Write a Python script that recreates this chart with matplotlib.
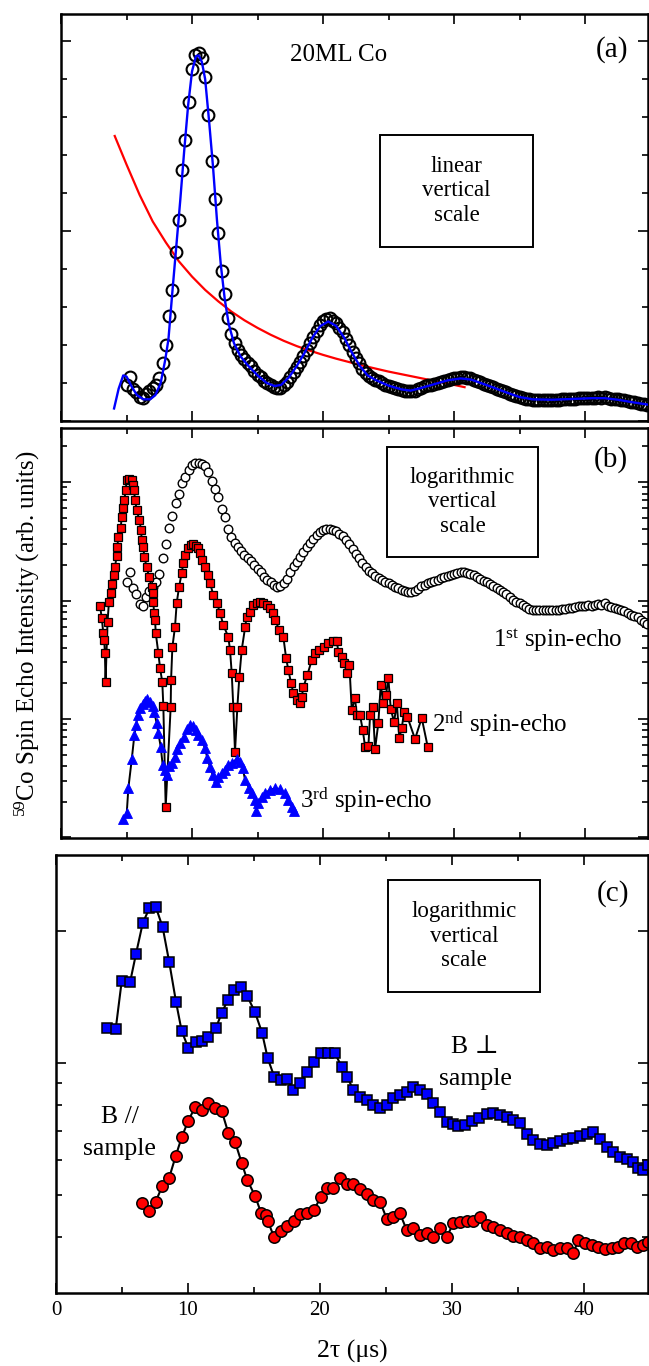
import numpy as np
import matplotlib
matplotlib.use('Agg')
import matplotlib.pyplot as plt
from matplotlib.patches import Rectangle
from matplotlib.ticker import MultipleLocator, LogLocator, FixedLocator, NullFormatter

# Times-like font, DejaVu as fallback for the ⊥ sign
plt.rcParams['font.family'] = ['Liberation Serif', 'DejaVu Serif']
plt.rcParams['mathtext.fontset'] = 'custom'
plt.rcParams['mathtext.rm'] = 'Liberation Serif'
plt.rcParams['mathtext.it'] = 'Liberation Serif:italic'

# ---------------- data ----------------
# (a) 1st spin echo, sampled every 0.25 us from 5 us
t1_start, t1_step = 5.0, 0.25
echo1 = [0.95, 1.15, 0.85, 0.75, 0.62, 0.60, 0.72, 0.80,
         0.86, 0.95, 1.12, 1.53, 2.00, 2.75, 3.45, 4.45,
         5.30, 6.60, 7.40, 8.40, 9.25, 9.62, 9.68, 9.55,
         9.05, 8.05, 6.85, 5.85, 4.95, 3.95, 3.35, 2.70,
         2.28, 2.05, 1.87, 1.74, 1.63, 1.53, 1.44, 1.32,
         1.22, 1.15, 1.06, 0.99, 0.95, 0.90, 0.86, 0.88,
         0.94, 1.02, 1.16, 1.30, 1.42, 1.56, 1.72, 1.87,
         2.04, 2.22, 2.38, 2.53, 2.63, 2.69, 2.70, 2.64,
         2.57, 2.45, 2.33, 2.17, 2.00, 1.82, 1.65, 1.52,
         1.38, 1.27, 1.19, 1.13, 1.08, 1.04, 1.00, 0.96,
         0.93, 0.90, 0.87, 0.85, 0.82, 0.80, 0.78, 0.78,
         0.80, 0.84, 0.88, 0.91, 0.94, 0.96, 0.98, 1.00,
         1.03, 1.06, 1.08, 1.10, 1.12, 1.14, 1.15, 1.15,
         1.14, 1.12, 1.09, 1.06, 1.02, 0.98, 0.95, 0.92,
         0.89, 0.85, 0.82, 0.78, 0.75, 0.72, 0.68, 0.65,
         0.63, 0.61, 0.59, 0.57, 0.56, 0.55, 0.55, 0.55,
         0.56, 0.55, 0.55, 0.56, 0.56, 0.57, 0.57, 0.58,
         0.58, 0.59, 0.60, 0.60, 0.60, 0.61, 0.60, 0.61,
         0.62, 0.61, 0.63, 0.60, 0.59, 0.58, 0.57, 0.56,
         0.54, 0.52, 0.50, 0.49, 0.48, 0.46, 0.44, 0.42]
t1 = t1_start + t1_step * np.arange(len(echo1))

# blue fit curve
fit_t = [4.05, 4.4, 4.75, 5.0, 5.4, 5.8, 6.3, 6.8, 7.2, 7.6,
         7.95, 8.2, 8.5, 8.8, 9.1, 9.4, 9.7, 10.0, 10.3, 10.5,
         10.75, 11.0, 11.3, 11.6, 11.9, 12.2, 12.5, 12.8, 13.2, 13.7,
         14.3, 15.0, 15.7, 16.3, 16.8, 17.4, 18.0, 18.6, 19.2, 19.8,
         20.4, 21.0, 21.6, 22.2, 22.8, 23.4, 24.0, 25.0, 26.0, 26.7,
         27.5, 28.5, 29.5, 30.5, 31.3, 32.2, 33.0, 34.0, 35.0, 36.0,
         37.5, 39.0, 40.5, 41.5, 42.5, 43.5, 45.0]
fit_v = [0.33, 0.85, 1.2, 1.17, 0.9, 0.68, 0.57, 0.57, 0.68, 0.99,
         1.6, 2.15, 3.4, 4.6, 5.8, 7.1, 8.3, 9.2, 9.6, 9.62,
         9.45, 9.0, 7.9, 6.7, 5.3, 4.1, 3.2, 2.55, 2.05, 1.7,
         1.45, 1.2, 1.0, 0.92, 0.95, 1.15, 1.45, 1.8, 2.2, 2.5,
         2.62, 2.5, 2.2, 1.8, 1.45, 1.2, 1.08, 0.93, 0.83, 0.8,
         0.87, 0.97, 1.07, 1.12, 1.09, 0.98, 0.88, 0.75, 0.63, 0.57,
         0.56, 0.58, 0.6, 0.6, 0.56, 0.5, 0.42]

# red decay curve
decay_t = [4.1, 5, 6, 7, 8, 9, 10, 11, 12, 13, 14, 15, 16, 17,
           18, 19, 20, 21, 22, 23, 24, 25, 26, 27, 28, 29, 30, 30.8]
decay_v = [7.5, 6.75, 5.95, 5.25, 4.7, 4.2, 3.8, 3.45, 3.15, 2.88, 2.65, 2.45, 2.27, 2.11,
           1.97, 1.85, 1.74, 1.64, 1.55, 1.46, 1.38, 1.30, 1.23, 1.16, 1.09, 1.02, 0.95, 0.89]

# (b) 1st echo shifted up by this factor (arb. units)
echo1_shift_b = 1.5

# (b) 2nd spin echo
t2 = [2.98, 3.11, 3.23, 3.30, 3.35, 3.40, 3.55, 3.66, 3.82, 3.92,
      4.07, 4.12, 4.25, 4.30, 4.37, 4.56, 4.63, 4.76, 4.83, 4.94,
      5.01, 5.21, 5.40, 5.47, 5.57, 5.65, 5.78, 5.98, 6.11, 6.16,
      6.28, 6.36, 6.54, 6.72, 6.92, 7.00, 7.05, 7.10, 7.18, 7.23,
      7.43, 7.56, 7.73, 7.81, 7.99, 8.37, 8.40, 8.50, 8.70, 8.83,
      9.01, 9.21, 9.34, 9.47, 9.67, 9.90, 10.10, 10.30, 10.48, 10.61,
      10.79, 10.99, 11.25, 11.37, 11.63, 11.89, 12.14, 12.39, 12.77, 12.90,
      13.03, 13.15, 13.28, 13.46, 13.61, 13.79, 14.05, 14.17, 14.43, 14.69,
      14.94, 15.19, 15.44, 15.70, 15.95, 16.16, 16.34, 16.66, 16.97, 17.18,
      17.35, 17.56, 17.73, 17.99, 18.24, 18.37, 18.50, 18.80, 19.14, 19.39,
      19.72, 20.08, 20.41, 20.78, 21.05, 21.17, 21.43, 21.63, 21.81, 22.01,
      22.19, 22.44, 22.57, 22.82, 23.03, 23.21, 23.46, 23.59, 23.79, 23.97,
      24.22, 24.40, 24.60, 24.81, 24.98, 25.17, 25.42, 25.63, 25.82, 26.01,
      26.18, 26.44, 27.02, 27.53, 27.99]
echo2 = [0.90, 0.71, 0.53, 0.46, 0.36, 0.205, 0.66, 0.97, 1.16, 1.38,
         1.64, 1.92, 2.38, 2.83, 3.43, 4.09, 5.07, 6.04, 7.05, 8.55,
         10.4, 10.6, 10.4, 9.44, 8.55, 7.05, 5.80, 4.78, 3.94, 3.24,
         2.83, 2.33, 1.92, 1.58, 1.30, 1.16, 0.97, 0.785, 0.684, 0.532,
         0.360, 0.269, 0.205, 0.129, 0.0181, 0.126, 0.213, 0.405, 0.597, 0.953,
         1.30, 1.71, 2.07, 2.42, 2.77, 2.94, 3.00, 2.88, 2.77, 2.52,
         2.20, 1.92, 1.64, 1.41, 1.11, 0.953, 0.785, 0.621, 0.492, 0.382,
         0.244, 0.126, 0.0527, 0.126, 0.226, 0.382, 0.597, 0.726, 0.80, 0.916,
         0.953, 0.97, 0.953, 0.916, 0.865, 0.785, 0.684, 0.564, 0.492, 0.327,
         0.259, 0.201, 0.166, 0.145, 0.136, 0.153, 0.186, 0.235, 0.315, 0.360,
         0.382, 0.405, 0.438, 0.455, 0.455, 0.367, 0.333, 0.297, 0.244, 0.286,
         0.119, 0.150, 0.108, 0.108, 0.0807, 0.0581, 0.0592, 0.108, 0.126, 0.0558,
         0.0925, 0.194, 0.136, 0.160, 0.222, 0.121, 0.0944, 0.136, 0.0692, 0.0839,
         0.115, 0.104, 0.0678, 0.102, 0.0581]

# (b) 3rd spin echo
t3 = [4.76, 5.02, 5.14, 5.40, 5.60, 5.73, 5.85, 6.03, 6.24, 6.41,
      6.59, 6.79, 7.00, 7.10, 7.31, 7.43, 7.61, 7.76, 7.94, 8.11,
      8.27, 8.45, 8.70, 8.88, 9.08, 9.39, 9.60, 9.85, 10.10, 10.31,
      10.48, 10.74, 10.99, 11.17, 11.37, 11.58, 11.83, 12.01, 12.27, 12.52,
      12.77, 13.03, 13.41, 13.66, 13.87, 14.05, 14.37, 14.60, 14.81, 14.90,
      15.06, 15.32, 15.57, 15.95, 16.34, 16.72, 17.10, 17.35, 17.61, 17.79]
echo3 = [0.01425, 0.0162, 0.026, 0.0457, 0.0733, 0.0889, 0.108, 0.123, 0.134, 0.143,
         0.147, 0.140, 0.129, 0.115, 0.092, 0.0757, 0.0583, 0.0409, 0.0371, 0.0337,
         0.0403, 0.0423, 0.0481, 0.0555, 0.0624, 0.071, 0.0818, 0.0889, 0.0873, 0.0807,
         0.0733, 0.0665, 0.0566, 0.0466, 0.0395, 0.0337, 0.0296, 0.0326, 0.0348, 0.0371,
         0.0409, 0.0428, 0.0457, 0.0437, 0.0384, 0.0305, 0.026, 0.0239, 0.0207, 0.0167,
         0.0195, 0.0221, 0.0236, 0.0252, 0.026, 0.0255, 0.0236, 0.0207, 0.0182, 0.0168]

# (c) B perpendicular to sample
t_perp = [3.89, 4.52, 4.98, 5.61, 6.06, 6.57, 7.07, 7.55, 8.08, 8.58,
          9.09, 9.52, 10.02, 10.58, 11.04, 11.54, 12.10, 12.55, 13.01, 13.51,
          14.02, 14.49, 15.08, 15.61, 16.04, 16.54, 17.02, 17.52, 17.98, 18.48,
          18.99, 19.55, 20.05, 20.63, 21.14, 21.64, 22.07, 22.52, 23.03, 23.54,
          24.04, 24.55, 25.05, 25.55, 26.06, 26.57, 27.07, 27.58, 28.08, 28.58,
          29.09, 29.60, 30.05, 30.48, 30.98, 31.49, 32.07, 32.63, 33.08, 33.64,
          34.14, 34.64, 35.15, 35.66, 36.16, 36.67, 37.17, 37.67, 38.18, 38.69,
          39.19, 39.70, 40.20, 40.70, 41.21, 41.72, 42.22, 42.73, 43.23, 43.74,
          44.11, 44.49, 44.87]
b_perp = [1.205, 1.194, 1.541, 1.530, 1.776, 2.088, 2.259, 2.279, 2.044, 1.700,
          1.381, 1.184, 1.084, 1.115, 1.123, 1.145, 1.201, 1.299, 1.394, 1.469,
          1.495, 1.423, 1.306, 1.173, 1.025, 0.930, 0.914, 0.918, 0.868, 0.899,
          0.952, 1.004, 1.052, 1.052, 1.052, 0.981, 0.930, 0.868, 0.837, 0.823,
          0.801, 0.788, 0.801, 0.830, 0.845, 0.860, 0.883, 0.868, 0.849, 0.811,
          0.774, 0.734, 0.725, 0.718, 0.721, 0.738, 0.747, 0.764, 0.767, 0.760,
          0.754, 0.741, 0.728, 0.690, 0.667, 0.653, 0.649, 0.657, 0.664, 0.669,
          0.673, 0.681, 0.688, 0.696, 0.669, 0.643, 0.627, 0.610, 0.602, 0.594,
          0.574, 0.569, 0.584]

# (c) B parallel to sample
t_par = [6.49, 7.07, 7.55, 8.05, 8.56, 9.07, 9.52, 10.02, 10.53, 11.04,
         11.54, 12.05, 12.55, 13.05, 13.56, 14.07, 14.49, 15.08, 15.53, 15.9,
         16.05, 16.52, 17.02, 17.52, 18.03, 18.48, 18.99, 19.55, 20.05, 20.51,
         21.01, 21.52, 22.02, 22.52, 23.03, 23.54, 24.04, 24.55, 25.05, 25.55,
         26.06, 26.57, 27.07, 27.58, 28.08, 28.58, 29.09, 29.60, 30.10, 30.61,
         31.11, 31.61, 32.12, 32.63, 33.13, 33.64, 34.14, 34.64, 35.15, 35.66,
         36.16, 36.67, 37.17, 37.67, 38.18, 38.69, 39.19, 39.57, 40.08, 40.58,
         41.08, 41.59, 42.10, 42.60, 43.03, 43.54, 44.04, 44.49, 44.87]
b_par = [0.479, 0.458, 0.482, 0.523, 0.545, 0.613, 0.676, 0.738, 0.792, 0.783,
         0.809, 0.788, 0.778, 0.693, 0.661, 0.591, 0.540, 0.497, 0.455, 0.449,
         0.435, 0.400, 0.413, 0.424, 0.436, 0.451, 0.453, 0.461, 0.494, 0.517,
         0.517, 0.545, 0.530, 0.530, 0.514, 0.503, 0.486, 0.482, 0.441, 0.445,
         0.453, 0.415, 0.419, 0.404, 0.408, 0.400, 0.419, 0.400, 0.430, 0.433,
         0.436, 0.436, 0.445, 0.426, 0.422, 0.415, 0.408, 0.402, 0.400, 0.394,
         0.387, 0.377, 0.380, 0.373, 0.377, 0.377, 0.367, 0.394, 0.387, 0.383,
         0.380, 0.375, 0.377, 0.380, 0.388, 0.388, 0.380, 0.383, 0.390]

x_ticks_labels = ['0', '10', '20', '30', '40']

# ---------------- figure ----------------
W, H = 649, 1366
fig = plt.figure(figsize=(W / 100, H / 100), dpi=100)


def axes_px(left, top, right, bottom):
    # axes placed by pixel box
    return fig.add_axes([left / W, 1 - bottom / H, (right - left) / W, (bottom - top) / H])


def style(ax):
    for s in ax.spines.values():
        s.set_linewidth(1.8)
    ax.xaxis.set_major_locator(MultipleLocator(10))
    ax.xaxis.set_minor_locator(MultipleLocator(5))
    ax.tick_params(which='both', direction='in', top=True, right=True, width=1.2,
                   labelleft=False, labelbottom=False)
    ax.tick_params(which='major', length=7)
    ax.tick_params(which='minor', length=4.5)


def note_box(ax, x0, y0, x1, y1, text):
    ax.add_patch(Rectangle((x0, y0), x1 - x0, y1 - y0, transform=ax.transAxes,
                           fill=False, lw=1.4, ec='black', zorder=6))
    ax.text((x0 + x1) / 2, (y0 + y1) / 2, text, transform=ax.transAxes,
            ha='center', va='center', fontsize=16.5, linespacing=1.2, zorder=6)


ax_a = axes_px(61, 14, 648, 421)
ax_b = axes_px(61, 428, 648, 838)
ax_c = axes_px(56, 855, 648, 1293)

# panel (a), linear scale
ax_a.plot(decay_t, decay_v, color='#ff0000', lw=1.6, zorder=2)
ax_a.plot(t1, echo1, 'o', ms=8.5, mfc='none', mec='black', mew=1.5, zorder=3)
ax_a.plot(fit_t, fit_v, color='#0000ff', lw=1.7, zorder=4)
ax_a.set_xlim(0, 44.8)
ax_a.set_ylim(0, 10.71)
style(ax_a)
ax_a.yaxis.set_major_locator(MultipleLocator(5))
ax_a.yaxis.set_minor_locator(MultipleLocator(1))
ax_a.text(0.473, 0.899, '20ML Co', transform=ax_a.transAxes, ha='center', va='center', fontsize=18)
ax_a.text(0.939, 0.912, '(a)', transform=ax_a.transAxes, ha='center', va='center', fontsize=21)
note_box(ax_a, 0.544, 0.4275, 0.804, 0.703, 'linear\nvertical\nscale')

# panel (b), log scale
ax_b.plot(t1, np.array(echo1) * echo1_shift_b, 'o', ms=6.2, mfc='white', mec='black', mew=1.0, zorder=2)
ax_b.plot(t2, echo2, '-s', color='black', lw=1.4, ms=5.8, mfc='#ff0000', mec='black', mew=0.9, zorder=3)
ax_b.plot(t3, echo3, '-^', color='black', lw=1.4, ms=6.8, mfc='#0000ff', mec='#0000ff', mew=0.6, zorder=4)
ax_b.set_yscale('log')
ax_b.set_xlim(0, 44.8)
ax_b.set_ylim(0.0099, 28.6)
style(ax_b)
ax_b.yaxis.set_major_locator(LogLocator(base=10))
ax_b.yaxis.set_minor_locator(LogLocator(base=10, subs=np.arange(2, 10)))
ax_b.yaxis.set_minor_formatter(NullFormatter())
ax_b.text(0.937, 0.922, '(b)', transform=ax_b.transAxes, ha='center', va='center', fontsize=21)
note_box(ax_b, 0.555, 0.6854, 0.8126, 0.9537, 'logarithmic\nvertical\nscale')
ax_b.text(0.736, 0.466, r'1$^{\mathrm{st}}$ spin-echo', transform=ax_b.transAxes,
          ha='left', va='baseline', fontsize=18)
ax_b.text(0.632, 0.259, r'2$^{\mathrm{nd}}$ spin-echo', transform=ax_b.transAxes,
          ha='left', va='baseline', fontsize=18)
ax_b.text(0.407, 0.073, r'3$^{\mathrm{rd}}$ spin-echo', transform=ax_b.transAxes,
          ha='left', va='baseline', fontsize=18)

# panel (c), log scale
ax_c.plot(t_perp, b_perp, '-s', color='black', lw=1.5, ms=7.4, mfc='#0000ff', mec='black', mew=1.1)
ax_c.plot(t_par, b_par, '-o', color='black', lw=1.5, ms=8.2, mfc='#ff0000', mec='black', mew=1.1)
ax_c.set_yscale('log')
ax_c.set_xlim(0, 44.85)
ax_c.set_ylim(0.298, 2.99)
style(ax_c)
ax_c.yaxis.set_major_locator(FixedLocator([1, 2]))
ax_c.yaxis.set_minor_locator(FixedLocator([0.4, 0.5, 0.6, 0.7, 0.8, 0.9]))
ax_c.yaxis.set_minor_formatter(NullFormatter())
ax_c.tick_params(labelbottom=True, labelsize=15, pad=6)
ax_c.set_xticks([0, 10, 20, 30, 40], x_ticks_labels)
ax_c.text(0.941, 0.913, '(c)', transform=ax_c.transAxes, ha='center', va='center', fontsize=21)
note_box(ax_c, 0.561, 0.687, 0.8176, 0.943, 'logarithmic\nvertical\nscale')
ax_c.text(0.708, 0.547, 'B ⊥', transform=ax_c.transAxes, ha='center', va='baseline', fontsize=18.5)
ax_c.text(0.708, 0.475, 'sample', transform=ax_c.transAxes, ha='center', va='baseline', fontsize=18.5)
ax_c.text(0.108, 0.387, 'B //', transform=ax_c.transAxes, ha='center', va='baseline', fontsize=18.5)
ax_c.text(0.108, 0.315, 'sample', transform=ax_c.transAxes, ha='center', va='baseline', fontsize=18.5)

# shared axis titles
fig.text(352 / W, 1 - 1358 / H, '2τ (μs)', ha='center', va='baseline', fontsize=18.5)
fig.text(27 / W, 1 - 633.5 / H, r'$^{59}$Co Spin Echo Intensity (arb. units)',
         rotation=90, ha='center', va='center', fontsize=18)

fig.savefig('out.png', dpi=100)
